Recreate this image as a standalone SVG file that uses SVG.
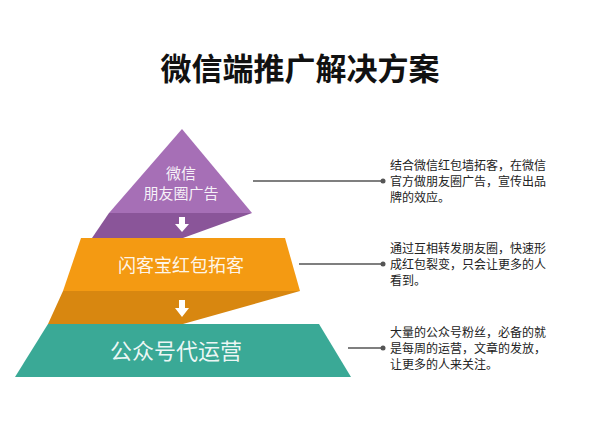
<svg xmlns="http://www.w3.org/2000/svg" width="600" height="444" viewBox="0 0 600 444">
<style>
text{font-family:"Noto Sans CJK SC","Liberation Sans",sans-serif}
.lbl{fill:#fff;text-anchor:middle;fill-opacity:0.92}
.desc{font-size:12px;fill:#222}
.ln{stroke:#555;stroke-width:1.5}
</style>
<rect width="600" height="444" fill="#fff"/>
<text x="300" y="80" text-anchor="middle" font-size="31" font-weight="bold" fill="#111">微信端推广解决方案</text>
<g id="connectors">
<polygon points="109,213 252,213 183,238 92,238" fill="#8a5599"/>
<polygon points="63,291 300,291 183,324 48,324" fill="#d88710"/>
<path d="M179,217h6v7h4l-7,8l-7,-8h4z" fill="#fff"/>
<path d="M179,300h6v8h4l-7,9l-7,-9h4z" fill="#fff"/>
<line class="ln" x1="253" y1="181" x2="383" y2="181"/><circle cx="383" cy="181" r="2.5" fill="#555"/>
<line class="ln" x1="299" y1="264" x2="383" y2="264"/><circle cx="383" cy="264" r="2.5" fill="#555"/>
<line class="ln" x1="348" y1="348" x2="383" y2="348"/><circle cx="383" cy="348" r="2.5" fill="#555"/>
</g>
<g id="n1">
<polygon points="182,129 252,213 109,213" fill="#a66fb6"/>
<text class="lbl" x="181" y="179" font-size="15">微信</text>
<text class="lbl" x="181" y="199" font-size="15">朋友圈广告</text>
</g>
<g id="n2">
<polygon points="81,238 285,238 300,291 63,291" fill="#f49a12"/>
<text class="lbl" x="181" y="272" font-size="18">闪客宝红包拓客</text>
</g>
<g id="n3">
<polygon points="48,324 319,324 351,377 15,377" fill="#3aa996"/>
<text class="lbl" x="176" y="359" font-size="22">公众号代运营</text>
</g>
<g id="d1">
<text class="desc" x="390" y="170">结合微信红包墙拓客，在微信</text>
<text class="desc" x="390" y="186">官方做朋友圈广告，宣传出品</text>
<text class="desc" x="390" y="202">牌的效应。</text>
</g>
<g id="d2">
<text class="desc" x="390" y="253">通过互相转发朋友圈，快速形</text>
<text class="desc" x="390" y="269">成红包裂变，只会让更多的人</text>
<text class="desc" x="390" y="285">看到。</text>
</g>
<g id="d3">
<text class="desc" x="390" y="337">大量的公众号粉丝，必备的就</text>
<text class="desc" x="390" y="353">是每周的运营，文章的发放，</text>
<text class="desc" x="390" y="369">让更多的人来关注。</text>
</g>
</svg>
